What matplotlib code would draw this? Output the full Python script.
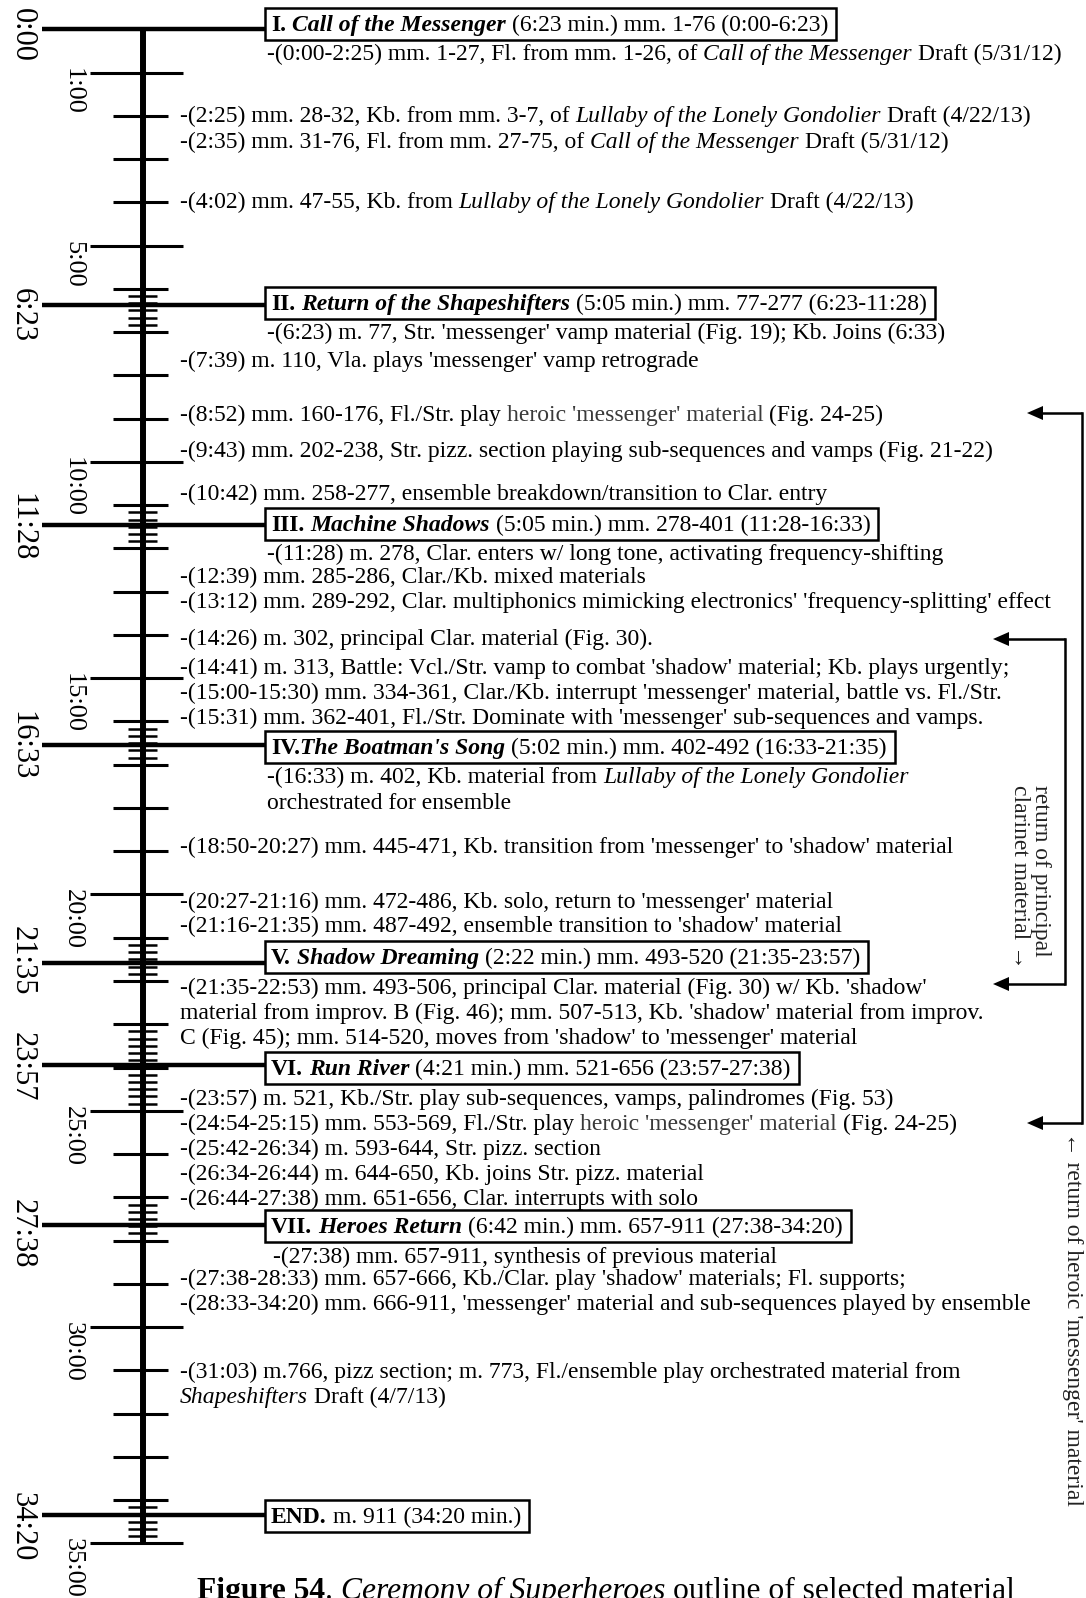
import re
import matplotlib
matplotlib.use("Agg")
import matplotlib.pyplot as plt

plt.rcParams['font.family'] = ['Liberation Serif', 'DejaVu Serif']

# ---- data -------------------------------------------------------------
# section starts in minutes
section_min = [0, 6, 11, 16, 21, 23, 27, 34]
section_sec = [0, 23, 28, 33, 35, 57, 38, 20]
section_labels = ["0:00", "6:23", "11:28", "16:33", "21:35", "23:57", "27:38", "34:20"]

minute_ticks = list(range(1, 36))
labelled_minutes = [1, 5, 10, 15, 20, 25, 30, 35]
minute_labels = ["1:00", "5:00", "10:00", "15:00", "20:00", "25:00", "30:00", "35:00"]
# minutes that get 10-second subdivisions
dense_minutes = [6, 11, 16, 21, 23, 24, 27, 34]
sub_seconds = [10, 20, 30, 40, 50]

headers = [
    ("I.", " Call of the Messenger", " (6:23 min.) mm. 1-76 (0:00-6:23)"),
    ("II.", " Return of the Shapeshifters", " (5:05 min.) mm. 77-277 (6:23-11:28)"),
    ("III.", " Machine Shadows", " (5:05 min.) mm. 278-401 (11:28-16:33)"),
    ("IV.", "The Boatman's Song", " (5:02 min.) mm. 402-492 (16:33-21:35)"),
    ("V.", " Shadow Dreaming", " (2:22 min.) mm. 493-520 (21:35-23:57)"),
    ("VI.", " Run River", " (4:21 min.) mm. 521-656 (23:57-27:38)"),
    ("VII.", " Heroes Return", " (6:42 min.) mm. 657-911 (27:38-34:20)"),
    ("END.", "", " m. 911 (34:20 min.)"),
]

# _italic_  ^grey^
notes = [
    "-(0:00-2:25) mm. 1-27, Fl. from mm. 1-26, of _Call of the Messenger_ Draft (5/31/12)",
    "-(2:25) mm. 28-32, Kb. from mm. 3-7, of _Lullaby of the Lonely Gondolier_ Draft (4/22/13)",
    "-(2:35) mm. 31-76, Fl. from mm. 27-75, of _Call of the Messenger_ Draft (5/31/12)",
    "-(4:02) mm. 47-55, Kb. from _Lullaby of the Lonely Gondolier_ Draft (4/22/13)",
    "-(6:23) m. 77, Str. 'messenger' vamp material (Fig. 19); Kb. Joins (6:33)",
    "-(7:39) m. 110, Vla. plays 'messenger' vamp retrograde",
    "-(8:52) mm. 160-176, Fl./Str. play ^heroic 'messenger' material^ (Fig. 24-25)",
    "-(9:43) mm. 202-238, Str. pizz. section playing sub-sequences and vamps (Fig. 21-22)",
    "-(10:42) mm. 258-277, ensemble breakdown/transition to Clar. entry",
    "-(11:28) m. 278, Clar. enters w/ long tone, activating frequency-shifting",
    "-(12:39) mm. 285-286, Clar./Kb. mixed materials",
    "-(13:12) mm. 289-292, Clar. multiphonics mimicking electronics' 'frequency-splitting' effect",
    "-(14:26) m. 302, principal Clar. material (Fig. 30).",
    "-(14:41) m. 313, Battle: Vcl./Str. vamp to combat 'shadow' material; Kb. plays urgently;",
    "-(15:00-15:30) mm. 334-361, Clar./Kb. interrupt 'messenger' material, battle vs. Fl./Str.",
    "-(15:31) mm. 362-401, Fl./Str. Dominate with 'messenger' sub-sequences and vamps.",
    "-(16:33) m. 402, Kb. material from _Lullaby of the Lonely Gondolier_",
    "orchestrated for ensemble",
    "-(18:50-20:27) mm. 445-471, Kb. transition from 'messenger' to 'shadow' material",
    "-(20:27-21:16) mm. 472-486, Kb. solo, return to 'messenger' material",
    "-(21:16-21:35) mm. 487-492, ensemble transition to 'shadow' material",
    "-(21:35-22:53) mm. 493-506, principal Clar. material (Fig. 30) w/ Kb. 'shadow'",
    "material from improv. B (Fig. 46); mm. 507-513, Kb. 'shadow' material from improv.",
    "C (Fig. 45); mm. 514-520, moves from 'shadow' to 'messenger' material",
    "-(23:57) m. 521, Kb./Str. play sub-sequences, vamps, palindromes (Fig. 53)",
    "-(24:54-25:15) mm. 553-569, Fl./Str. play ^heroic 'messenger' material^ (Fig. 24-25)",
    "-(25:42-26:34) m. 593-644, Str. pizz. section",
    "-(26:34-26:44) m. 644-650, Kb. joins Str. pizz. material",
    "-(26:44-27:38) mm. 651-656, Clar. interrupts with solo",
    "-(27:38) mm. 657-911, synthesis of previous material",
    "-(27:38-28:33) mm. 657-666, Kb./Clar. play 'shadow' materials; Fl. supports;",
    "-(28:33-34:20) mm. 666-911, 'messenger' material and sub-sequences played by ensemble",
    "-(31:03) m.766, pizz section; m. 773, Fl./ensemble play orchestrated material from",
    "_Shapeshifters_ Draft (4/7/13)",
]

heroic_label = "\u2190 return of heroic 'messenger' material"
clarinet_label = "return of principal\nclarinet material \u2192"
caption = [("Figure 54", "bold"), (".", "normal"), (" Ceremony of Superheroes", "italic"),
           (" outline of selected material", "normal")]

# ---- layout (pixels) --------------------------------------------------
W, H = 1086, 1598
Y0, PPM = 29.3, 43.26          # pixel of 0:00, pixels per minute
header_y = [24, 303, 524, 747, 957, 1068, 1226, 1516]
label_shift = [6, 10, 1.5, 0.5, -2, 1, 9, 12.5]
note_x = [267, 180, 180, 180, 267, 180, 180, 180, 180, 267, 180, 180, 180, 180, 180, 180,
          267, 267, 180, 180, 180, 180, 180, 180, 180, 180, 180, 180, 180, 273, 180, 180, 180, 180]
note_y = [53, 115, 141, 201, 332, 360, 414, 450, 493, 553, 576, 601, 638, 667, 692, 717,
          776, 802, 846, 901, 925, 987, 1012, 1037, 1098, 1123, 1148, 1173, 1198, 1256, 1278,
          1303, 1371, 1396]
FS = 17
GREY = '#3a3a3a'


def py(p):
    return (p - Y0) / PPM


fig = plt.figure(figsize=(W / 100, H / 100), dpi=100)
ax = fig.add_axes([0, 0, 1, 1])
ax.set_xlim(0, W)
ax.set_ylim(py(H), py(0))
ax.axis('off')
renderer = fig.canvas.get_renderer()

sec_t = [m + s / 60 for m, s in zip(section_min, section_sec)]

# timeline
ax.vlines(143, 0, 35, color='k', lw=4.3, capstyle='butt')
reg = [m for m in minute_ticks if m not in labelled_minutes]
ax.hlines(reg, 113, 168, color='k', lw=2.2, capstyle='butt')
ax.hlines(labelled_minutes, 90, 183, color='k', lw=2.2, capstyle='butt')
subs = [m + s / 60 for m in dense_minutes for s in sub_seconds]
ax.hlines(subs, 128, 157, color='k', lw=1.8, capstyle='butt')
ax.hlines(sec_t, 42, 265, color='k', lw=3.2, capstyle='butt')

for m, lab in zip(labelled_minutes, minute_labels):
    ax.text(73, m - 5 / PPM, lab, rotation=270, ha='center', va='top', fontsize=19)
for t, lab, d in zip(sec_t, section_labels, label_shift):
    ax.text(22, t + d / PPM, lab, rotation=270, ha='center', va='center', fontsize=22)


def put(x, y, parts, size=FS):
    sp = 0.25 * size * 100 / 72
    for s, style in parts:
        x += (len(s) - len(s.lstrip(' '))) * sp
        core = s.strip(' ')
        if core:
            kw = dict(fontsize=size, va='baseline', ha='left', color='k')
            if 'bold' in style:
                kw['fontweight'] = 'bold'
            if 'italic' in style:
                kw['fontstyle'] = 'italic'
            if 'grey' in style:
                kw['color'] = GREY
            t = ax.text(x, y, core, **kw)
            x = t.get_window_extent(renderer).x1
        x += (len(s) - len(s.rstrip(' '))) * sp
    return x


def parse(s):
    parts, it, gr = [], False, False
    for tok in re.split(r'([_^])', s):
        if tok == '_':
            it = not it
        elif tok == '^':
            gr = not gr
        elif tok:
            parts.append((tok, ('italic ' if it else '') + ('grey' if gr else '')))
    return parts


# section headers in boxes
for (num, title, rest), yc in zip(headers, header_y):
    base = py(yc + 7)
    x1 = put(271, base, [(num, 'bold'), (title, 'bold italic'), (rest, 'normal')])
    ax.add_patch(plt.Rectangle((265, py(yc - 16)), x1 + 8 - 265, 32 / PPM,
                               fill=False, ec='k', lw=1.8))

for s, x, yc in zip(notes, note_x, note_y):
    put(x, py(yc + 7), parse(s))


# brackets on the right
def bracket(xv, ytop, ybot, tip):
    ax.vlines(xv, py(ytop), py(ybot), color='k', lw=1.8, capstyle='projecting')
    for yy in (ytop, ybot):
        ax.hlines(py(yy), tip + 14, xv, color='k', lw=1.8)
        ax.fill([tip, tip + 16, tip + 16], [py(yy), py(yy - 7), py(yy + 7)], color='k', lw=0)


bracket(1082, 413, 1123, 1027)
bracket(1065, 639, 984, 993)
ax.text(1072, py(1132), heroic_label, rotation=270, ha='center', va='top', fontsize=17,
        color='#222222')
ax.text(1030, py(785), clarinet_label, rotation=270, ha='center', va='top', fontsize=17,
        color='#222222', linespacing=1.0, multialignment='left')

put(197, py(1599), caption, size=22.7)

fig.savefig('out.png', dpi=100)
